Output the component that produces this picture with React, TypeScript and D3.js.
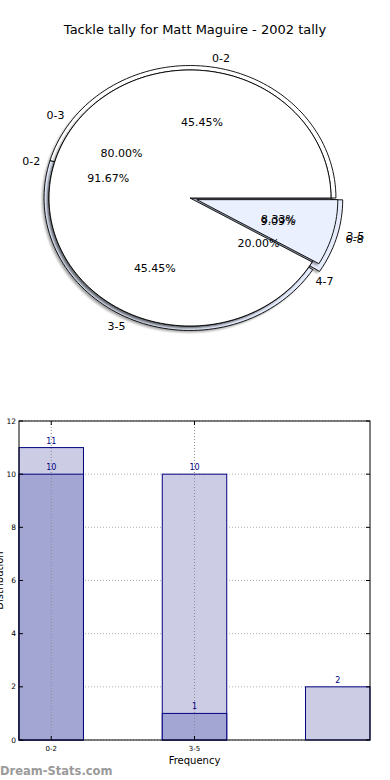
import React from "react";
import * as d3 from "d3";

const title = "Tackle tally for Matt Maguire - 2002 tally";

// Pie layers (drawn bottom to top)
const pie3Values = [10, 10, 2];
const pie3Labels = ["0-2", "3-5", "6-8"];
const pie2Values = [8, 2];
const pie2Labels = ["0-3", "4-7"];
const pie1Values = [11, 1];
const pie1Labels = ["0-2", "3-5"];

// Bar chart
const barCategories = ["0-2", "3-5", "6-8"];
const tickLabels = ["0-2", "3-5"];
const lightSeries = [11, 10, 2];
const darkSeries = [10, 1, 0];
const yTicks = [0, 2, 4, 6, 8, 10, 12];

const W = 390;
const H = 780;
const font = "DejaVu Sans, sans-serif";

const CX = 190;
const CY = 198;
const RX = 141;
const RY = 128;

type Layer = {
  values: number[];
  labels: string[];
  colors: string[];
  explode: number[];
  radius: number;
};

const layers: Layer[] = [
  { values: pie3Values, labels: pie3Labels, colors: ["#ffffff", "#e3eafb", "#e6ecfb"], explode: [0, 0, 0.05], radius: 1.035 },
  { values: pie2Values, labels: pie2Labels, colors: ["#ffffff", "#d6e0f8"], explode: [0, 0], radius: 1.0 },
  { values: pie1Values, labels: pie1Labels, colors: ["#ffffff", "#eaf0fd"], explode: [0, 0.05], radius: 1.0 },
];

function wedgePath(a0: number, a1: number, r: number, dx: number, dy: number) {
  const n = Math.max(4, Math.ceil(((a1 - a0) / (Math.PI * 2)) * 180));
  const pts: [number, number][] = [[CX + dx, CY + dy]];
  for (let i = 0; i <= n; i++) {
    const t = a0 + ((a1 - a0) * i) / n;
    pts.push([CX + dx + RX * r * Math.cos(t), CY + dy - RY * r * Math.sin(t)]);
  }
  return (d3.line()(pts) || "") + "Z";
}

function PieLayer({ layer }: { layer: Layer }) {
  const arcs = d3
    .pie<number>()
    .sort(null)
    .value((d) => d)(layer.values);
  const wedges = arcs.map((a, i) => {
    const mid = (a.startAngle + a.endAngle) / 2;
    const ex = layer.explode[i];
    const dx = RX * ex * Math.cos(mid);
    const dy = -RY * ex * Math.sin(mid);
    return { a, i, mid, dx, dy };
  });
  return (
    <g>
      {wedges.map((w) => (
        <path
          key={"s" + w.i}
          d={wedgePath(w.a.startAngle, w.a.endAngle, layer.radius, w.dx - 2, w.dy + 2)}
          fill="#000"
          opacity={0.35}
          filter="url(#blur)"
        />
      ))}
      {wedges.map((w) => (
        <path
          key={"w" + w.i}
          d={wedgePath(w.a.startAngle, w.a.endAngle, layer.radius, w.dx, w.dy)}
          fill={layer.colors[w.i]}
          stroke="#000"
          strokeWidth={0.9}
          strokeLinejoin="round"
        />
      ))}
    </g>
  );
}

function PieTexts({ layer }: { layer: Layer }) {
  const total = d3.sum(layer.values);
  const arcs = d3
    .pie<number>()
    .sort(null)
    .value((d) => d)(layer.values);
  return (
    <g fontFamily={font} fontSize={11} fill="#000">
      {arcs.map((a, i) => {
        const mid = (a.startAngle + a.endAngle) / 2;
        const ex = layer.explode[i];
        const c = Math.cos(mid);
        const s = Math.sin(mid);
        const lx = CX + RX * (1.1 + ex) * c;
        const ly = CY - RY * (1.1 + ex) * s;
        const px = CX + RX * (0.6 + ex) * c;
        const py = CY - RY * (0.6 + ex) * s;
        return (
          <g key={i}>
            <text x={lx} y={ly} dy="0.35em" textAnchor={c >= 0 ? "start" : "end"}>
              {layer.labels[i]}
            </text>
            <text x={px} y={py} dy="0.35em" textAnchor="middle">
              {((layer.values[i] / total) * 100).toFixed(2) + "%"}
            </text>
          </g>
        );
      })}
    </g>
  );
}

function BarChart() {
  const left = 19;
  const right = 370;
  const top = 421;
  const bottom = 740;
  const barW = 0.45;
  const x = d3.scaleLinear().domain([0, barCategories.length - 1 + barW]).range([left, right]);
  const y = d3.scaleLinear().domain([0, 12]).range([bottom, top]);
  const navy = "#000080";
  const xTickPos = tickLabels.map((_, i) => i + barW / 2);
  return (
    <g fontFamily={font}>
      {yTicks.map((t) => (
        <line key={"gy" + t} x1={left} x2={right} y1={y(t)} y2={y(t)} stroke="#b0b0b0" strokeDasharray="1,2" strokeWidth={1} />
      ))}
      {lightSeries.map((v, i) => (
        <rect key={"l" + i} x={x(i)} y={y(v)} width={x(i + barW) - x(i)} height={y(0) - y(v)} fill="#cccde4" stroke={navy} strokeWidth={1} />
      ))}
      {darkSeries.map((v, i) =>
        v > 0 ? (
          <rect key={"d" + i} x={x(i)} y={y(v)} width={x(i + barW) - x(i)} height={y(0) - y(v)} fill="#a3a5d2" stroke={navy} strokeWidth={1} />
        ) : null
      )}
      {xTickPos.map((p, i) => (
        <line key={"gx" + i} x1={x(p)} x2={x(p)} y1={top} y2={bottom} stroke="#8a8a9a" strokeDasharray="1,2" strokeWidth={1} />
      ))}
      {lightSeries.map((v, i) => (
        <text key={"lt" + i} x={x(i + barW / 2)} y={y(v) - 4} textAnchor="middle" fontSize={8} fill={navy}>
          {v}
        </text>
      ))}
      {darkSeries.map((v, i) =>
        v > 0 ? (
          <text key={"dt" + i} x={x(i + barW / 2)} y={y(v) - 4} textAnchor="middle" fontSize={8} fill={navy}>
            {v}
          </text>
        ) : null
      )}
      <rect x={left} y={top} width={right - left} height={bottom - top} fill="none" stroke="#000" strokeWidth={1} />
      {yTicks.map((t) => (
        <g key={"yt" + t}>
          <line x1={left} x2={left + 4} y1={y(t)} y2={y(t)} stroke="#000" />
          <line x1={right - 4} x2={right} y1={y(t)} y2={y(t)} stroke="#000" />
          <text x={left - 3} y={y(t)} dy="0.35em" textAnchor="end" fontSize={7.5} fill="#000">
            {t}
          </text>
        </g>
      ))}
      {xTickPos.map((p, i) => (
        <g key={"xt" + i}>
          <line x1={x(p)} x2={x(p)} y1={bottom} y2={bottom - 4} stroke="#000" />
          <line x1={x(p)} x2={x(p)} y1={top} y2={top + 4} stroke="#000" />
          <text x={x(p)} y={bottom + 11} textAnchor="middle" fontSize={7} fill="#000">
            {tickLabels[i]}
          </text>
        </g>
      ))}
      <text x={(left + right) / 2} y={764} textAnchor="middle" fontSize={10} fill="#000">
        Frequency
      </text>
      <text transform={`translate(3,${(top + bottom) / 2}) rotate(-90)`} textAnchor="middle" fontSize={10} fill="#000">
        Distribution
      </text>
      <text x={0} y={775} fontSize={11.5} fontWeight="bold" fill="#9a9a9a">
        Dream-Stats.com
      </text>
    </g>
  );
}

export default function App() {
  return (
    <svg width={W} height={H} style={{ position: "absolute", left: 0, top: 0, background: "#fff" }}>
      <defs>
        <filter id="blur" x="-10%" y="-10%" width="120%" height="120%">
          <feGaussianBlur stdDeviation={0.8} />
        </filter>
      </defs>
      <rect width={W} height={H} fill="#fff" />
      <text x={195} y={34} textAnchor="middle" fontFamily={font} fontSize={13} fill="#000">
        {title}
      </text>
      {layers.map((l, i) => (
        <PieLayer key={i} layer={l} />
      ))}
      {layers.map((l, i) => (
        <PieTexts key={"t" + i} layer={l} />
      ))}
      <BarChart />
    </svg>
  );
}
